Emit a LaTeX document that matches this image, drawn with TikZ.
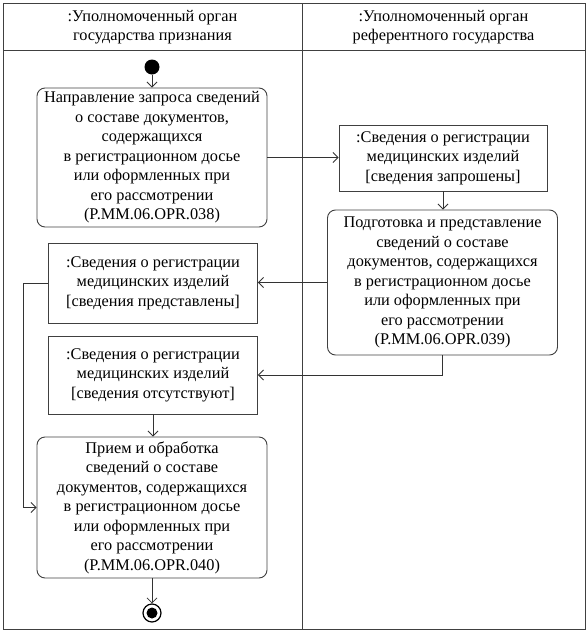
\documentclass[tikz,border=0pt]{standalone}
\usepackage{fontspec}
\setmainfont{Liberation Serif}
\usetikzlibrary{arrows.meta}
\begin{document}
\begin{tikzpicture}[x=1pt,y=-1pt,
  frame/.style={draw=black!75, line width=0.9pt},
  txt/.style={align=center, inner sep=0pt, font=\fontsize{16.3}{19.5}\selectfont, text=black},
  act/.style={txt, draw=black!75, line width=0.9pt, rounded corners=8pt, minimum width=230pt},
  obj/.style={txt, draw=black!75, line width=0.9pt, minimum width=209pt},
  arr/.style={draw=black!80, line width=0.8pt, -{Straight Barb[length=5pt,width=10pt]}},
]
\useasboundingbox (0,0) rectangle (588,635);
% swimlane frame
\draw[frame] (3,3) rectangle (585,629);
\draw[frame] (3,50) -- (585,50);
\draw[frame] (302,3) -- (302,629);
\node[txt] (h1) at (152.5,27) {:Уполномоченный орган\\государства признания};
\node[txt] (h2) at (443.5,27) {:Уполномоченный орган\\референтного государства};
% nodes
\node[circle, fill=black, inner sep=0pt, minimum size=15pt] (start) at (152,67) {};
\node[act, minimum height=139pt] (a1) at (152,157.5) {Направление запроса сведений\\о составе документов,\\содержащихся\\в регистрационном досье\\или оформленных при\\его рассмотрении\\(P.MM.06.OPR.038)};
\node[obj, minimum width=208pt, minimum height=66pt] (o1) at (443,158) {:Сведения о регистрации\\медицинских изделий\\{[}сведения запрошены{]}};
\node[act, minimum height=145pt] (a2) at (442.5,282.5) {Подготовка и представление\\сведений о составе\\документов, содержащихся\\в регистрационном досье\\или оформленных при\\его рассмотрении\\(P.MM.06.OPR.039)};
\node[obj, minimum height=80pt] (o2) at (153,283) {:Сведения о регистрации\\медицинских изделий\\{[}сведения представлены{]}};
\node[obj, minimum height=78pt] (o3) at (153,375) {:Сведения о регистрации\\медицинских изделий\\{[}сведения отсутствуют{]}};
\node[act, minimum height=141pt] (a3) at (152,507.5) {Прием и обработка\\сведений о составе\\документов, содержащихся\\в регистрационном досье\\или оформленных при\\его рассмотрении\\(P.MM.06.OPR.040)};
\node[circle, draw=black, line width=1.2pt, inner sep=0pt, minimum size=18pt] (end) at (152,613) {};
\node[circle, fill=black, inner sep=0pt, minimum size=11pt] (endin) at (end.center) {};
% connectors
\draw[arr] (start) -- (a1);
\draw[arr] (a1.east) -- (a1.east -| o1.west);
\draw[arr] (o1.south) -- (o1.south |- a2.north);
\draw[arr] (a2.west) -- (a2.west -| o2.east);
\draw[arr] (a2.south) |- (o3.east);
\draw[arr] (o2.west) -- ++(-24.5,0) |- (a3.west);
\draw[arr] (o3.south) -- (o3.south |- a3.north);
\draw[arr] (a3.south) -- (end.north);
\end{tikzpicture}
\end{document}
